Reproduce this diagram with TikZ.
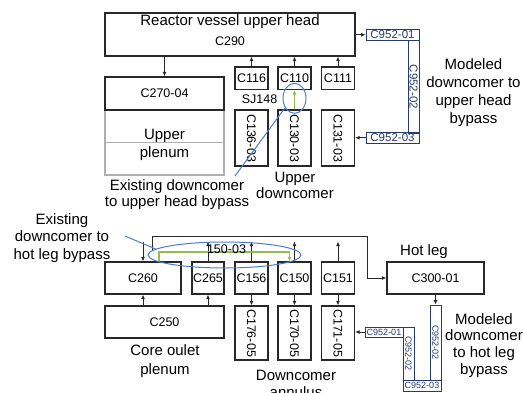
\documentclass[tikz,border=0pt]{standalone}
\usepackage{fontspec}
\setmainfont{Liberation Sans}
\usetikzlibrary{arrows.meta,shapes.geometric}
\definecolor{linec}{RGB}{40,40,40}
\definecolor{navy}{RGB}{38,60,110}
\definecolor{bluel}{RGB}{74,126,214}
\definecolor{grn}{RGB}{150,185,85}
\definecolor{plgray}{RGB}{175,175,175}
\begin{document}
\begin{tikzpicture}[x=1pt,y=-1pt,
  box/.style={draw=linec, line width=1.1pt, inner sep=0pt, font=\fontsize{12.5}{15}\selectfont},
  nbox/.style={draw=navy, line width=0.9pt, inner sep=0pt, text=navy, font=\fontsize{11.5}{13}\selectfont},
  sbox/.style={nbox, font=\fontsize{9}{10}\selectfont},
  note/.style={align=center, inner sep=0pt, anchor=north},
  lbl/.style={inner sep=0pt, font=\fontsize{12.5}{15}\selectfont},
  arr/.style={-{Latex[length=4.5pt,width=4pt]}, line width=0.9pt, draw=linec},
  garr/.style={-{Latex[length=4.5pt,width=4pt]}, line width=1.3pt, draw=grn},
  bline/.style={draw=bluel, line width=1pt},
  bell/.style={ellipse, draw=bluel, line width=1pt, inner sep=0pt}]
\useasboundingbox (0,0) rectangle (523,392);
\clip (0,0) rectangle (523,392);

% ---------- upper part ----------
\node[box, minimum width=250pt, minimum height=43pt, align=center,
      font=\fontsize{12.5}{20}\selectfont] (rv) at (230,34.5)
  {{\fontsize{15}{20}\selectfont Reactor vessel upper head}\\C290\rule[-8pt]{0pt}{8pt}};
\node[box, draw=plgray, minimum width=119pt, minimum height=65pt, align=center,
      font=\fontsize{15}{18.6}\selectfont] (up) at (164.5,142.5)
  {\rule{0pt}{15pt}Upper\\plenum};
\draw[plgray, line width=1.1pt] (up.west) -- (up.east);
\node[box, minimum width=119pt, minimum height=33pt] (c270) at (164.5,93.5) {C270-04};

\node[box, minimum width=33pt, minimum height=22.5pt] (c116) at (251.5,78.25) {C116};
\node[box, minimum width=33pt, minimum height=22.5pt] (c110) at (294.5,78.25) {C110};
\node[box, minimum width=33pt, minimum height=22.5pt] (c111) at (338,78.25) {C111};
\node[box, minimum width=33pt, minimum height=56pt] (c136) at (251.5,138) {\rotatebox{-90}{C136-03}};
\node[box, minimum width=33pt, minimum height=56pt] (c130) at (294.5,138) {\rotatebox{-90}{C130-03}};
\node[box, minimum width=33pt, minimum height=56pt] (c131) at (338,138) {\rotatebox{-90}{C131-03}};
\node[lbl] (sj) at (259.5,99.3) {SJ148};

\draw[arr] (c270.north |- rv.south) -- (c270.north);
\draw[arr] (c116.north) -- (c116.north |- rv.south);
\draw[arr] (c110.north) -- (c110.north |- rv.south);
\draw[arr] (c111.north) -- (c111.north |- rv.south);
\draw[garr] (c130.north) -- (c110.south);

\node[nbox, minimum width=53pt, minimum height=11.5pt] (c9521) at (392.5,34.75) {C952-01};
\node[nbox, minimum width=11pt, minimum height=92.5pt] (c9522) at (413.5,86.75) {\rotatebox{-90}{C952-02}};
\node[nbox, minimum width=53pt, minimum height=10.5pt] (c9523) at (392.5,137.75) {C952-03};
\draw[arr] (c9521.west -| rv.east) -- (c9521.west);
\draw[arr] (c9523.west) -- (c9523.west -| c131.east);

\node[bell, minimum width=23pt, minimum height=30pt] (e1) at (294.5,98.3) {};
\coordinate (t1) at (235,176);
\draw[bline] (e1.225) -- (t1);

\node[note, font=\fontsize{15}{18.3}\selectfont] (m1) at (473.5,58) {Modeled\\downcomer to\\upper head\\bypass};
\node[note, font=\fontsize{15}{16}\selectfont] (n1) at (177,179) {Existing downcomer\\to upper head bypass};
\node[note, font=\fontsize{15}{16}\selectfont] (ud) at (295,172) {Upper\\downcomer};

% ---------- lower part ----------
\node[box, minimum width=76pt, minimum height=32pt] (c260) at (143,278) {C260};
\node[box, minimum width=32pt, minimum height=32pt] (c265) at (208,278) {C265};
\node[box, minimum width=33pt, minimum height=32pt] (c156) at (251.5,278) {C156};
\node[box, minimum width=33pt, minimum height=32pt] (c150) at (294.5,278) {C150};
\node[box, minimum width=33pt, minimum height=32pt] (c151) at (338,278) {C151};
\node[box, minimum width=97pt, minimum height=32pt] (c300) at (435.5,278) {C300-01};
\node[box, minimum width=119pt, minimum height=32pt] (c250) at (164.5,322) {C250};
\node[box, minimum width=33pt, minimum height=54pt] (c176) at (251.5,333) {\rotatebox{-90}{C176-05}};
\node[box, minimum width=33pt, minimum height=54pt] (c170) at (294.5,333) {\rotatebox{-90}{C170-05}};
\node[box, minimum width=33pt, minimum height=54pt] (c171) at (338,333) {\rotatebox{-90}{C171-05}};

\draw[arr] (c250.north -| c260.south) -- (c260.south);
\draw[arr] (c250.north -| c265.south) -- (c265.south);
\draw[arr] (c156.south) -- (c176.north);
\draw[arr] (c150.south) -- (c170.north);
\draw[arr] (c151.south) -- (c171.north);

\coordinate (j) at (225,241.5);
\draw[arr] (c260.north |- j) -- (c260.north);
\draw[arr] (c265.north) -- (c265.north |- j);
\draw[arr] (c156.north) -- (c156.north |- j);
\draw[arr] (c150.north) -- (c150.north |- j);
\draw[arr] (c151.north) -- (c151.north |- j);

\coordinate (k1) at (152,250);
\coordinate (k2) at (367,236);
\draw[arr] (k1) |- (k2) |- (c300.west);

\coordinate (g1) at (159,262);
\coordinate (g2) at (289.5,252);
\draw[garr] (g1) |- (g2) -- (g2 |- c150.north);

\node[lbl] (p150) at (226.5,249.5) {150-03};
\node[bell, minimum width=153pt, minimum height=26pt] (e2) at (224.5,255) {};
\coordinate (t2) at (125,236);
\draw[bline] (e2.175) -- (t2);

\node[sbox, minimum width=38pt, minimum height=10pt] (b1) at (384,332) {C952-01};
\node[sbox, minimum width=11pt, minimum height=53pt] (b2) at (408.5,353.5) {\rotatebox{-90}{C952-02}};
\node[sbox, minimum width=11pt, minimum height=75pt] (b4) at (435.5,342.5) {\rotatebox{-90}{C952-02}};
\node[sbox, minimum width=38pt, minimum height=11.5pt] (b3) at (422,385.75) {C952-03};
\draw[arr] (b1.west) -- (b1.west -| c171.east);
\draw[arr] (c300.south) -- (b4.north);

\node[note, font=\fontsize{15}{17.5}\selectfont] (n2) at (62,213) {Existing\\downcomer to\\hot leg bypass};
\node[note, font=\fontsize{15}{17}\selectfont] (hl) at (424,244) {Hot leg};
\node[note, font=\fontsize{15}{19}\selectfont] (col) at (165,344) {Core oulet\\plenum};
\node[note, font=\fontsize{15}{17}\selectfont] (dca) at (296,370) {Downcomer\\annulus};
\node[note, font=\fontsize{15}{16.7}\selectfont] (m2) at (484,313) {Modeled\\downcomer\\to hot leg\\bypass};
\end{tikzpicture}
\end{document}
